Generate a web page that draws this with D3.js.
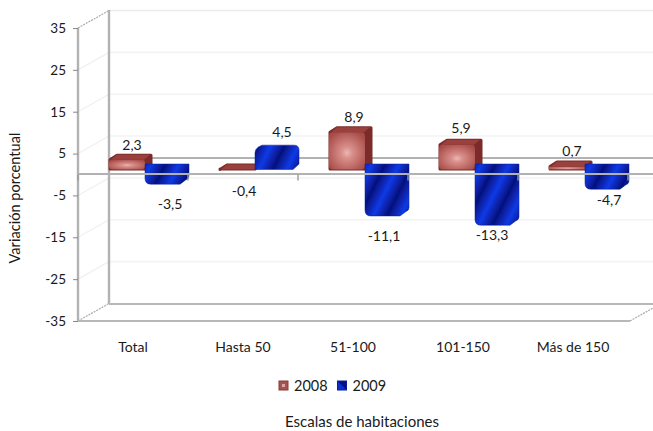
<!DOCTYPE html>
<html><head><meta charset="utf-8">
<script src="https://cdn.jsdelivr.net/npm/d3@7/dist/d3.min.js"></script>
<style>html,body{margin:0;background:#fff}svg{display:block}text{font-family:Lato,sans-serif;fill:#1a1a1a}</style>
</head><body><svg id="c" width="653" height="431"></svg>
<script>
const categories=["Total","Hasta 50","51-100","101-150","Más de 150"];
const seriesNames=["2008","2009"];
const values2008=[2.3,-0.4,8.9,5.9,0.7];
const values2009=[-3.5,4.5,-11.1,-13.3,-4.7];
const labels2008=["2,3","-0,4","8,9","5,9","0,7"];
const labels2009=["-3,5","4,5","-11,1","-13,3","-4,7"];
const yTicks=[35,25,15,5,-5,-15,-25,-35];

const svg=d3.select("#c");
const defs=svg.append("defs");
const x=d3.scaleBand().domain(categories).range([78,628]);
const sub=d3.scaleBand().domain(seriesNames).range([31,103]);
const y=d3.scaleLinear().domain([-35,35]).range([321,28]);
const W=653,DX=31,DY=17.5,bx=8,by=5.5,lift=5;

const rg=defs.append("radialGradient").attr("id","red").attr("cx",.5).attr("cy",.55).attr("r",.62);
rg.append("stop").attr("offset",0).attr("stop-color","#eab8b6");
rg.append("stop").attr("offset",.25).attr("stop-color","#d98f8b");
rg.append("stop").attr("offset",1).attr("stop-color","#a84c48");
const bp=defs.append("linearGradient").attr("id","blue").attr("gradientUnits","userSpaceOnUse")
 .attr("x1",0).attr("y1",0).attr("x2",11).attr("y2",11*.5).attr("spreadMethod","reflect");
bp.append("stop").attr("offset",0).attr("stop-color","#06107c");
bp.append("stop").attr("offset",1).attr("stop-color","#0a3ae6");
defs.append("filter").attr("id","soft").append("feGaussianBlur").attr("stdDeviation",.6);

const wall=svg.append("g");
const line=(a,b,c,d,col,w,dash)=>wall.append("line").attr("x1",a).attr("y1",b).attr("x2",c).attr("y2",d)
 .attr("stroke",col).attr("stroke-width",w).attr("stroke-dasharray",dash||null);
yTicks.forEach(t=>{
  if(t!==-35&&t!==35){
    line(78+DX,y(t)-DY,W,y(t)-DY,"#f3f3f3",1.6);
    line(78,y(t),78+DX,y(t)-DY,"#f0f0f0",1.2);
  }
});
line(78+DX,10.5,W,10.5,"#ececec",1.6);
line(78,28,78+DX,10.5,"#aaa",1.2,"2 1");
line(78,321,78+DX,303.5,"#aaa",1.2,"2 1");
line(630,321,W,308,"#aaa",1.2,"2 1");
line(78+DX,10,78+DX,304,"#b2b2b2",2.4);
line(78,28,78,321,"#b2b2b2",2.4);
line(78+DX,304,W,304,"#b8b8b8",1.8);
line(78,321,630,321,"#b8b8b8",1.8);
line(78+DX,y(0)-DY+1,W,y(0)-DY+1,"#b2b2b2",2);

const yAxis=d3.axisLeft(y).tickValues(yTicks).tickSize(5).tickPadding(7).tickFormat(String);
const ag=svg.append("g").attr("transform","translate(78,0)").call(yAxis);
ag.select(".domain").remove();
ag.selectAll("line").attr("stroke","#8a8a8a").attr("stroke-width",1);
ag.selectAll("text").attr("font-size",13.5).style("font-family","Lato,sans-serif").attr("fill","#1a1a1a");

const base=y(0)-lift;
const bars=svg.append("g").attr("filter","url(#soft)");
function red(v,c){
  const x0=x(c)+sub("2008"),w=sub.bandwidth();
  const top=y(Math.max(v,0))-lift,h=base-top;
  const g=bars.append("g");
  g.append("path").attr("d",`M${x0+1},${base-.5}V${top}L${x0+bx},${top-by+1}H${x0+w+bx-2}V${base-by}L${x0+w},${base-.5}Z`).attr("fill","#7b2b2a").attr("stroke","#7b2b2a").attr("stroke-width",3).attr("stroke-linejoin","round");
  if(h>0)g.append("rect").attr("x",x0).attr("y",top).attr("width",w).attr("height",h).attr("rx",Math.min(4,h/3)).attr("fill","url(#red)");
  g.append("path").attr("d",`M${x0+2},${top}L${x0+bx},${top-by+.5}H${x0+w+bx-3}L${x0+w-1},${top}Z`).attr("fill","#9a403e");
}
function blue(v,c){
  const x0=x(c)+sub("2009"),w=sub.bandwidth();
  const end=y(v)-lift,top=v<0?base-by:end-by,bottom=v<0?end:base;
  const right=x0+w+bx;
  const d=v<0
   ?`M${x0},${top}H${right}V${bottom-by-3}Q${right},${bottom-by} ${right-3},${bottom-by+1}L${x0+w-1},${bottom}H${x0+6}Q${x0},${bottom} ${x0},${bottom-6}Z`
   :`M${x0},${base}V${top+by+2}Q${x0},${top+by-1} ${x0+3},${top+2}L${x0+bx-1},${top}H${right-5}Q${right},${top} ${right},${top+5}V${base-by}L${right-6},${base}Z`;
  bars.append("path").attr("d",d).attr("fill","url(#blue)").attr("stroke","#0a1c9c").attr("stroke-width",.5);
}
categories.forEach((c,i)=>red(values2008[i],c));
categories.forEach((c,i)=>blue(values2009[i],c));

const axisX=svg.append("g");
axisX.append("line").attr("x1",78).attr("x2",W).attr("y1",y(0)-.5).attr("y2",y(0)-.5).attr("stroke","#b2b2b2").attr("stroke-width",2);
categories.forEach(c=>{const t=x(c)+x.bandwidth();
  axisX.append("line").attr("x1",t).attr("x2",t).attr("y1",y(0)).attr("y2",y(0)+6).attr("stroke","#9a9a9a").attr("stroke-width",1.4);});
axisX.append("line").attr("x1",78).attr("x2",78).attr("y1",y(0)).attr("y2",y(0)+6).attr("stroke","#9a9a9a").attr("stroke-width",1.4);
categories.forEach(c=>axisX.append("text").attr("x",x(c)+x.bandwidth()/2).attr("y",352).attr("text-anchor","middle").attr("font-size",14).text(c));

// data labels, with nudges following the original's hand placement
const nudge2008=[[1,-8],[3,28],[3,-8],[0,-10],[1,-9]];
const nudge2009=[[3,21],[5,-12],[-3,21],[-5,11],[2,12]];
const labG=svg.append("g").attr("font-size",14).attr("text-anchor","middle");
const lab=(v,txt,c,s,n)=>{
  const cx=x(c)+sub(s)+sub.bandwidth()/2+bx/2;
  const yy=v>0?y(v)-lift-by:(s==="2008"?base-by:y(v)-lift);
  labG.append("text").attr("x",cx+n[0]).attr("y",yy+n[1]).attr("dominant-baseline","middle").text(txt);
};
categories.forEach((c,i)=>{lab(values2008[i],labels2008[i],c,"2008",nudge2008[i]);lab(values2009[i],labels2009[i],c,"2009",nudge2009[i]);});

// legend
const bl=defs.append("linearGradient").attr("id","blueL").attr("x1",0).attr("y1",1).attr("x2",1).attr("y2",0);
[[0,"#0a2fd0"],[.5,"#0a2fd0"],[.5,"#06107c"],[1,"#06107c"]].forEach(d=>bl.append("stop").attr("offset",d[0]).attr("stop-color",d[1]));
const lg=svg.append("g");
seriesNames.forEach((s,i)=>{
  const lx=279+i*58.5;
  lg.append("rect").attr("x",lx).attr("y",381).attr("width",9).attr("height",9).attr("fill",i?"url(#blueL)":"#a35450").attr("stroke",i?"#0a1c9c":"#8a3a38");
  if(!i)lg.append("rect").attr("x",lx+3).attr("y",384).attr("width",3).attr("height",3).attr("fill","#dba6a3");
  lg.append("text").attr("x",lx+15).attr("y",390.5).attr("font-size",14.5).text(s);
});

svg.append("text").attr("x",362).attr("y",427).attr("text-anchor","middle").attr("font-size",15).text("Escalas de habitaciones");
svg.append("text").attr("transform","translate(20,198) rotate(-90)").attr("text-anchor","middle").attr("font-size",14.6).text("Variación porcentual");
</script></body></html>
